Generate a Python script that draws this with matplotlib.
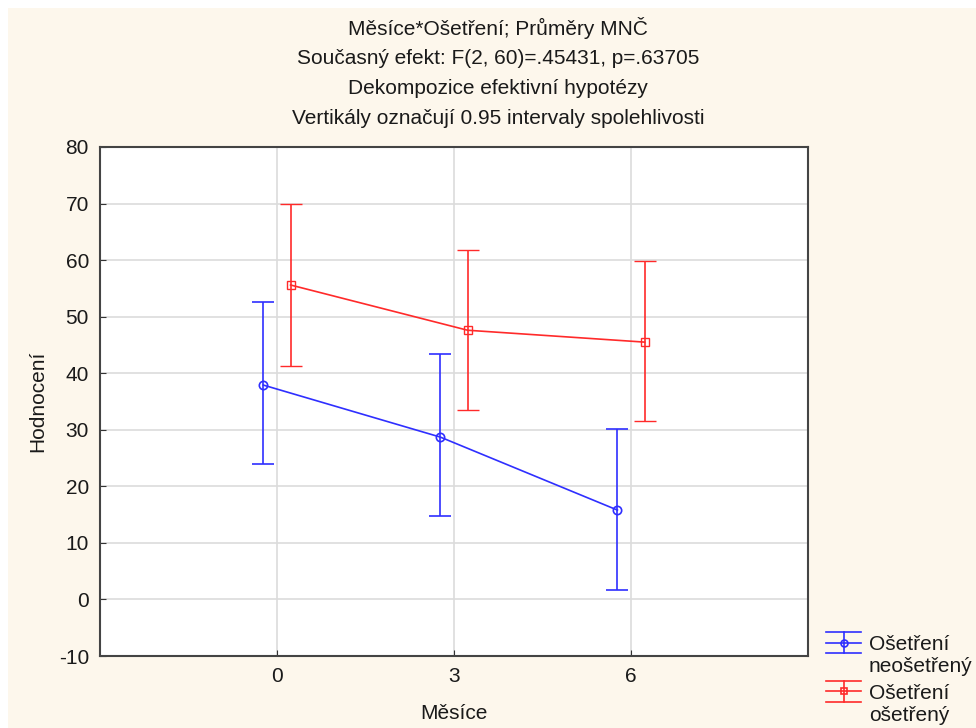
import matplotlib.pyplot as plt
import numpy as np
from matplotlib.legend_handler import HandlerBase
from matplotlib.lines import Line2D

plt.rcParams['font.family'] = ['Liberation Sans', 'DejaVu Sans']
plt.rcParams['axes.unicode_minus'] = False

# Months and LS means with 95% confidence limits
months = np.array([0, 3, 6])
untreated_mean = np.array([37.9, 28.7, 15.8])
untreated_low = np.array([23.9, 14.8, 1.7])
untreated_high = np.array([52.6, 43.4, 30.1])
treated_mean = np.array([55.6, 47.6, 45.5])
treated_low = np.array([41.3, 33.5, 31.6])
treated_high = np.array([69.9, 61.8, 59.8])

blue = '#2f2fff'
red = '#ff2a2a'
bg = '#fdf7ec'
txt = '#1a1a1a'
fs = 15


class WideCapHandler(HandlerBase):
    """Legend key: line with full-width caps above and below, stem and marker."""

    def __init__(self, half=7.5, yshift=9.5, **kw):
        super().__init__(**kw)
        self.half = half
        self.yshift = yshift

    def create_artists(self, legend, orig_handle, xdescent, ydescent, width, height,
                       fontsize, trans):
        src = orig_handle[0]
        c = src.get_color()
        x0, x1 = -xdescent, -xdescent + width
        xm = (x0 + x1) / 2
        ym = -ydescent + height / 2 + self.yshift
        h = self.half
        arts = []
        for y in (ym - h, ym, ym + h):
            arts.append(Line2D([x0, x1], [y, y], color=c, lw=1.2))
        arts.append(Line2D([xm, xm], [ym - h, ym + h], color=c, lw=1.2))
        arts.append(Line2D([xm], [ym], marker=src.get_marker(), ms=5, mfc='none',
                           mec=c, mew=1.2, ls='none'))
        for a in arts:
            a.set_transform(trans)
        return arts


fig = plt.figure(figsize=(9.76, 7.28), dpi=100, facecolor='white')
# beige panel inside a thin white border
fig.patches.append(plt.Rectangle((8 / 976, 0), 1, 1 - 8 / 728, transform=fig.transFigure,
                                 facecolor=bg, edgecolor='none', zorder=-10))
ax = fig.add_axes([100 / 976, 1 - 656 / 728, 708 / 976, 509 / 728])
ax.set_facecolor('white')

shift = 0.23
eb1 = ax.errorbar(months - shift, untreated_mean,
                  yerr=[untreated_mean - untreated_low, untreated_high - untreated_mean],
                  color=blue, lw=1.2, marker='o', ms=6, mfc='none', mew=1.2,
                  capsize=8, capthick=1.2, label='Ošetření\nneošetřený')
eb2 = ax.errorbar(months + shift, treated_mean,
                  yerr=[treated_mean - treated_low, treated_high - treated_mean],
                  color=red, lw=1.2, marker='s', ms=6, mfc='none', mew=1.0,
                  capsize=8, capthick=1.2, label='Ošetření\nošetřený')

ax.set_xlim(-3, 9)
ax.set_ylim(-10, 80)
ax.set_xticks(months)
ax.set_yticks(np.arange(-10, 81, 10))
ax.grid(True, color='#dcdcdc', lw=1.2)
ax.set_axisbelow(True)
ax.tick_params(labelsize=fs, length=4, direction='in', color='#333333',
               labelcolor=txt, pad=8)
for s in ax.spines.values():
    s.set_color('#444444')
    s.set_linewidth(1.5)

ax.set_xlabel('Měsíce', fontsize=fs, color=txt, labelpad=13)
ax.set_ylabel('Hodnocení', fontsize=fs, color=txt, labelpad=8)

title_lines = ['Měsíce*Ošetření; Průměry MNČ',
               'Současný efekt: F(2, 60)=.45431, p=.63705',
               'Dekompozice efektivní hypotézy',
               'Vertikály označují 0.95 intervaly spolehlivosti']
for i, line in enumerate(title_lines):
    fig.text(498 / 976, 1 - (28 + 30 * i) / 728, line, ha='center', va='center',
             fontsize=fs, color=txt)

fig.legend(handles=[eb1, eb2], loc='upper left', bbox_to_anchor=(818 / 976, 1 - 627 / 728),
           frameon=False, fontsize=fs, handlelength=1.65, handletextpad=0.4,
           labelspacing=0.35, borderaxespad=0, labelcolor=txt,
           handler_map={type(eb1): WideCapHandler()})

fig.savefig('out.png', dpi=100, facecolor=fig.get_facecolor())
